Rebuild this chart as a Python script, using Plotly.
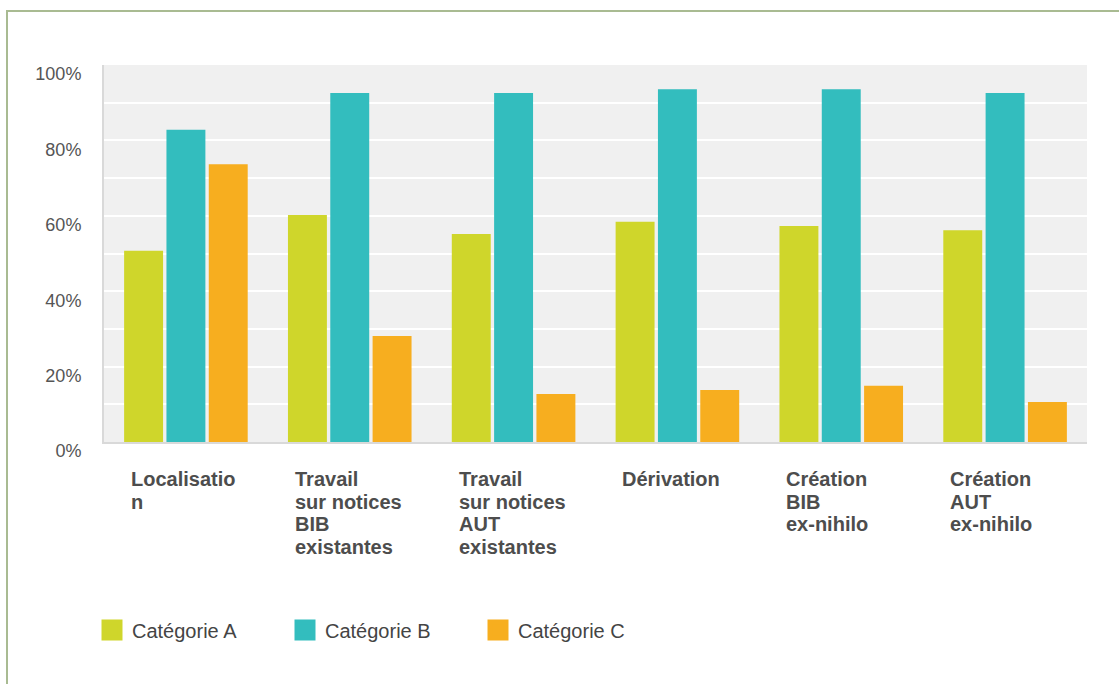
import plotly.graph_objects as go

categories = ["Localisation", "Travail sur notices BIB existantes", "Travail sur notices AUT existantes",
              "Dérivation", "Création BIB ex-nihilo", "Création AUT ex-nihilo"]
category_lines = [["Localisatio", "n"],
                  ["Travail", "sur notices", "BIB", "existantes"],
                  ["Travail", "sur notices", "AUT", "existantes"],
                  ["Dérivation"],
                  ["Création", "BIB", "ex-nihilo"],
                  ["Création", "AUT", "ex-nihilo"]]
series_names = ["Catégorie A", "Catégorie B", "Catégorie C"]
cat_a = [50.7, 60.2, 55.2, 58.4, 57.3, 56.2]
cat_b = [82.8, 92.6, 92.6, 93.6, 93.6, 92.6]
cat_c = [73.7, 28.1, 12.7, 13.8, 14.9, 10.6]
series_values = [cat_a, cat_b, cat_c]
colors = ["#cfd62b", "#33bdbe", "#f7ae1f"]
y_ticks = [0, 20, 40, 60, 80, 100]
y_tick_labels = ["%d%%" % v for v in y_ticks]

W, H = 1119, 684
ML, MR, MT, MB = 104, 32, 65, 242
PW, PH = W - ML - MR, H - MT - MB

fig = go.Figure()
for name, vals, col in zip(series_names, series_values, colors):
    fig.add_trace(go.Bar(x=categories, y=vals, name=name, marker=dict(color=col, line=dict(width=0)),
                         showlegend=False))
# legend entries (larger swatches)
for name, col in zip(series_names, colors):
    fig.add_trace(go.Scatter(x=[None], y=[None], mode="markers", name=name,
                             marker=dict(symbol="square", size=16, color=col,
                                         line=dict(color=col, width=5))))

FONT = "Liberation Sans, Arial, sans-serif"
TXT = "#4d4d4d"

annotations = []
line_h = 22.5
for cat, lines in zip(categories, category_lines):
    for i, ln in enumerate(lines):
        annotations.append(dict(x=cat, xref="x", y=0, yref="paper", text="<b>%s</b>" % ln,
                                showarrow=False, xanchor="left", yanchor="top", align="left",
                                xshift=-57, yshift=-24 - i * line_h,
                                font=dict(family=FONT, size=20, color=TXT)))

def px_to_paper_x(px):
    return (px - ML) / PW

def px_to_paper_y(py):
    return (H - MB - py) / PH

shapes = [dict(type="rect", xref="paper", yref="paper",
               x0=px_to_paper_x(7), x1=px_to_paper_x(W + 20),
               y0=px_to_paper_y(H + 20), y1=px_to_paper_y(11),
               line=dict(color="#a9bb92", width=2), fillcolor="rgba(0,0,0,0)", layer="below")]

fig.update_layout(
    width=W, height=H,
    margin=dict(l=ML, r=MR, t=MT, b=MB),
    paper_bgcolor="white", plot_bgcolor="#f0f0f0",
    barmode="group", bargap=0.225, bargroupgap=0.08,
    font=dict(family=FONT, color=TXT),
    xaxis=dict(showticklabels=False, showgrid=False, showline=True, linecolor="#d9d9d9",
               linewidth=2, ticks="", zeroline=False, fixedrange=True),
    yaxis=dict(range=[0, 100], tickmode="array", tickvals=y_ticks, ticktext=y_tick_labels,
               showgrid=True,
               gridcolor="white", gridwidth=2, showline=True, linecolor="#d9d9d9", linewidth=2,
               zeroline=False, ticks="", ticklabelstandoff=17, ticklabelshift=9,
               tickfont=dict(family=FONT, size=18, color="#555555"),
               minor=dict(dtick=10, showgrid=True, gridcolor="white", gridwidth=2)),
    legend=dict(orientation="h", x=px_to_paper_x(92), xanchor="left",
                y=px_to_paper_y(630), yanchor="middle", entrywidth=148,
                font=dict(family=FONT, size=20, color="#444444"), bgcolor="rgba(0,0,0,0)"),
    annotations=annotations, shapes=shapes,
)

fig.write_html("out.html")
